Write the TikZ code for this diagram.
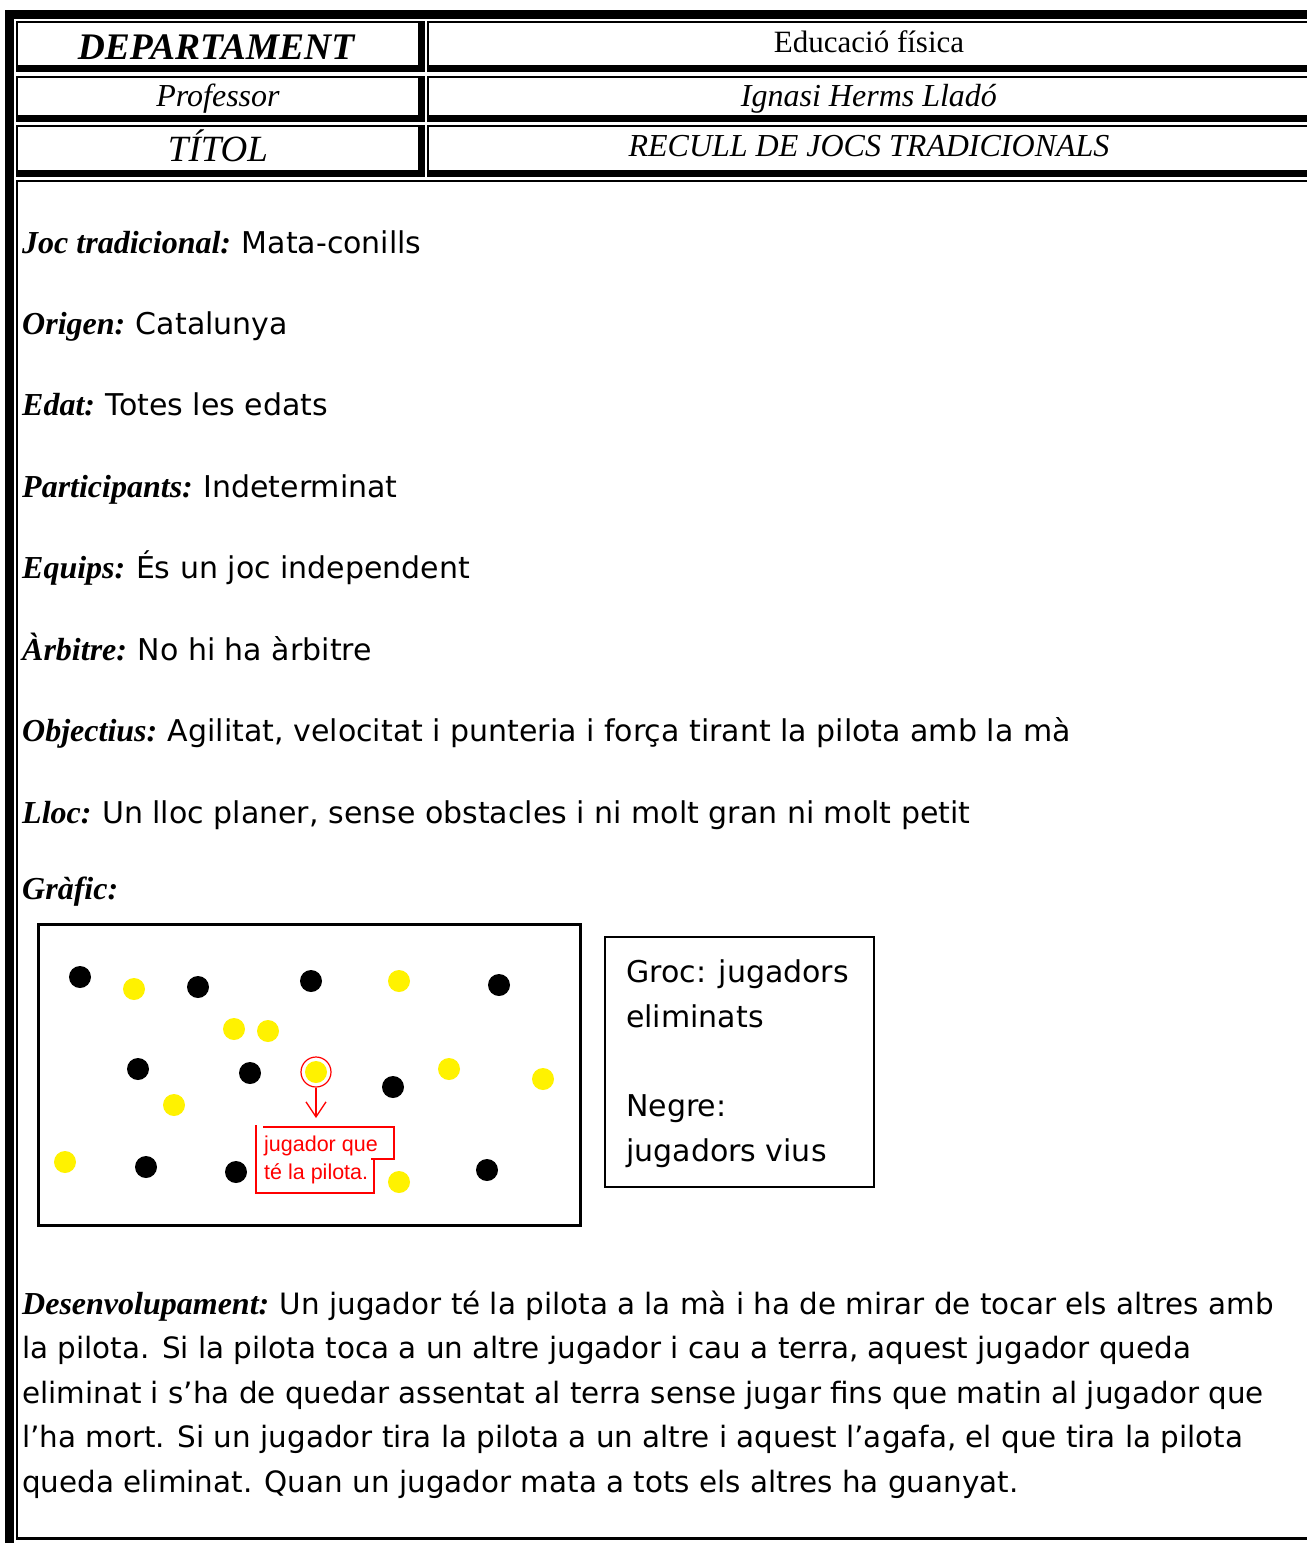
\documentclass[tikz,border=0pt]{standalone}
\usepackage{fontspec}
\setmainfont{Liberation Serif}
\newfontfamily\comicfont{DejaVu Sans}
\newfontfamily\notefont{Liberation Sans}
\usetikzlibrary{arrows.meta}
\newcommand{\etiq}[1]{{\bfseries\itshape #1}}
\newcommand{\comic}{\comicfont\fontsize{30}{36}\selectfont}
% table cell: thin top/left, thick bottom/right
\newcommand{\cellbox}[4]{%
  \fill (#1,#2) rectangle (#3,#2+2);
  \fill (#1,#2) rectangle (#1+2,#4);
  \fill (#3-7,#2) rectangle (#3,#4);
  \fill (#1,#4-7) rectangle (#3,#4);}

\begin{document}
\begin{tikzpicture}[x=1pt,y=-1pt,
    hdr/.style={anchor=base,inner sep=0pt,font=\fontsize{32}{38}\selectfont\itshape},
    row/.style={anchor=base west,inner sep=0pt,font=\fontsize{32}{38}\selectfont},
    txt/.style={anchor=base west,inner sep=0pt,font=\comic},
    par/.style={anchor=base west,inner sep=0pt,font=\comicfont\fontsize{29.4}{36}\selectfont},
    nota/.style={anchor=base west,inner sep=0pt,red,font=\notefont\fontsize{21.5}{26}\selectfont},
    viu/.style={fill=black},
    mort/.style={fill=yellow}]
    \useasboundingbox[fill=white] (0,0) rectangle (1307,1543);
    % outer frame
    \fill (5,10) rectangle (1307,19);
    \fill (5,10) rectangle (14,1543);
    \cellbox{16}{21}{425}{72}
    \cellbox{427}{21}{1320}{72}
    \cellbox{16}{76}{425}{122}
    \cellbox{427}{76}{1320}{122}
    \cellbox{16}{125}{425}{177}
    \cellbox{427}{125}{1320}{177}
    \fill (16,180) rectangle (1307,182);
    \fill (16,180) rectangle (18,1540);
    \fill (16,1537) rectangle (1307,1540);

    \node[hdr,font=\fontsize{37.5}{42}\selectfont\bfseries\itshape] (dept) at (216,59) {DEPARTAMENT};
    \node[hdr,font=\fontsize{31}{38}\selectfont] (deptval) at (869,52) {Educació física};
    \node[hdr] (prof) at (218,106) {Professor};
    \node[hdr] (profval) at (869,106) {Ignasi Herms Lladó};
    \node[hdr,font=\fontsize{37}{42}\selectfont\itshape] (titol) at (218,161) {TÍTOL};
    \node[hdr] (titolval) at (869,156) {RECULL DE JOCS TRADICIONALS};

    \node[row] (joc) at (22,253) {\etiq{Joc tradicional:} {\comic Mata-conills}};
    \node[row] (origen) at (22,334) {\etiq{Origen:} {\comic Catalunya}};
    \node[row] (edat) at (22,415) {\etiq{Edat:} {\comic Totes les edats}};
    \node[row] (part) at (22,497) {\etiq{Participants:} {\comic Indeterminat}};
    \node[row] (equips) at (22,578) {\etiq{Equips:} {\comic És un joc independent}};
    \node[row] (arbitre) at (22,660) {\etiq{Àrbitre:} {\comic No hi ha àrbitre}};
    \node[row] (obj) at (22,741) {\etiq{Objectius:} {\comic Agilitat, velocitat i punteria i força tirant la pilota amb la mà}};
    \node[row] (lloc) at (22,823) {\etiq{Lloc:} {\comic Un lloc planer, sense obstacles i ni molt gran ni molt petit}};
    \node[row] (grafic) at (22,899) {\etiq{Gràfic:}};

    % playing field
    \draw[line width=3pt] (38,924) rectangle (580,1225);
    \foreach \x/\y in {80/977,198/987,311/981,499/985,138/1069,250/1073,393/1087,146/1167,236/1172,487/1170}
      \fill[viu] (\x,\y) circle (11);
    \foreach \x/\y in {134/989,399/981,234/1029,268/1031,449/1069,543/1079,174/1105,65/1162,399/1182,316/1072}
      \fill[mort] (\x,\y) circle (11);
    \node[draw=red,line width=1.2pt,circle,minimum size=30pt,inner sep=0pt] (holder) at (316,1072) {};
    \coordinate (tip) at (316,1118);
    \draw[red,line width=1.3pt,-{Straight Barb[length=15pt,width=20pt]}] (holder.south) -- (tip);
    \draw[red,line width=1.3pt] (263,1127) -- (394,1127) -- (394,1159) -- (371,1159)
      (374,1159) -- (374,1193) -- (256,1193) -- (256,1125);
    \node[nota] (nota1) at (264,1151) {jugador que};
    \node[nota] (nota2) at (264,1179) {té la pilota.};

    % legend
    \draw[line width=2pt] (605,937) rectangle (874,1187);
    \node[txt] (groc) at (626,982) {Groc: jugadors};
    \node[txt] (groc2) at (626,1027) {eliminats};
    \node[txt] (negre) at (626,1116) {Negre:};
    \node[txt] (negre2) at (626,1161) {jugadors vius};

    \node[row] (des1) at (22,1314) {\etiq{Desenvolupament:} {\comicfont\fontsize{29.4}{36}\selectfont Un jugador té la pilota a la mà i ha de mirar de tocar els altres amb}};
    \node[par] (des2) at (22,1358) {la pilota. Si la pilota toca a un altre jugador i cau a terra, aquest jugador queda};
    \node[par] (des3) at (22,1403) {eliminat i s’ha de quedar assentat al terra sense jugar fins que matin al jugador que};
    \node[par] (des4) at (22,1447) {l’ha mort. Si un jugador tira la pilota a un altre i aquest l’agafa, el que tira la pilota};
    \node[par] (des5) at (22,1492) {queda eliminat. Quan un jugador mata a tots els altres ha guanyat.};
\end{tikzpicture}
\end{document}
